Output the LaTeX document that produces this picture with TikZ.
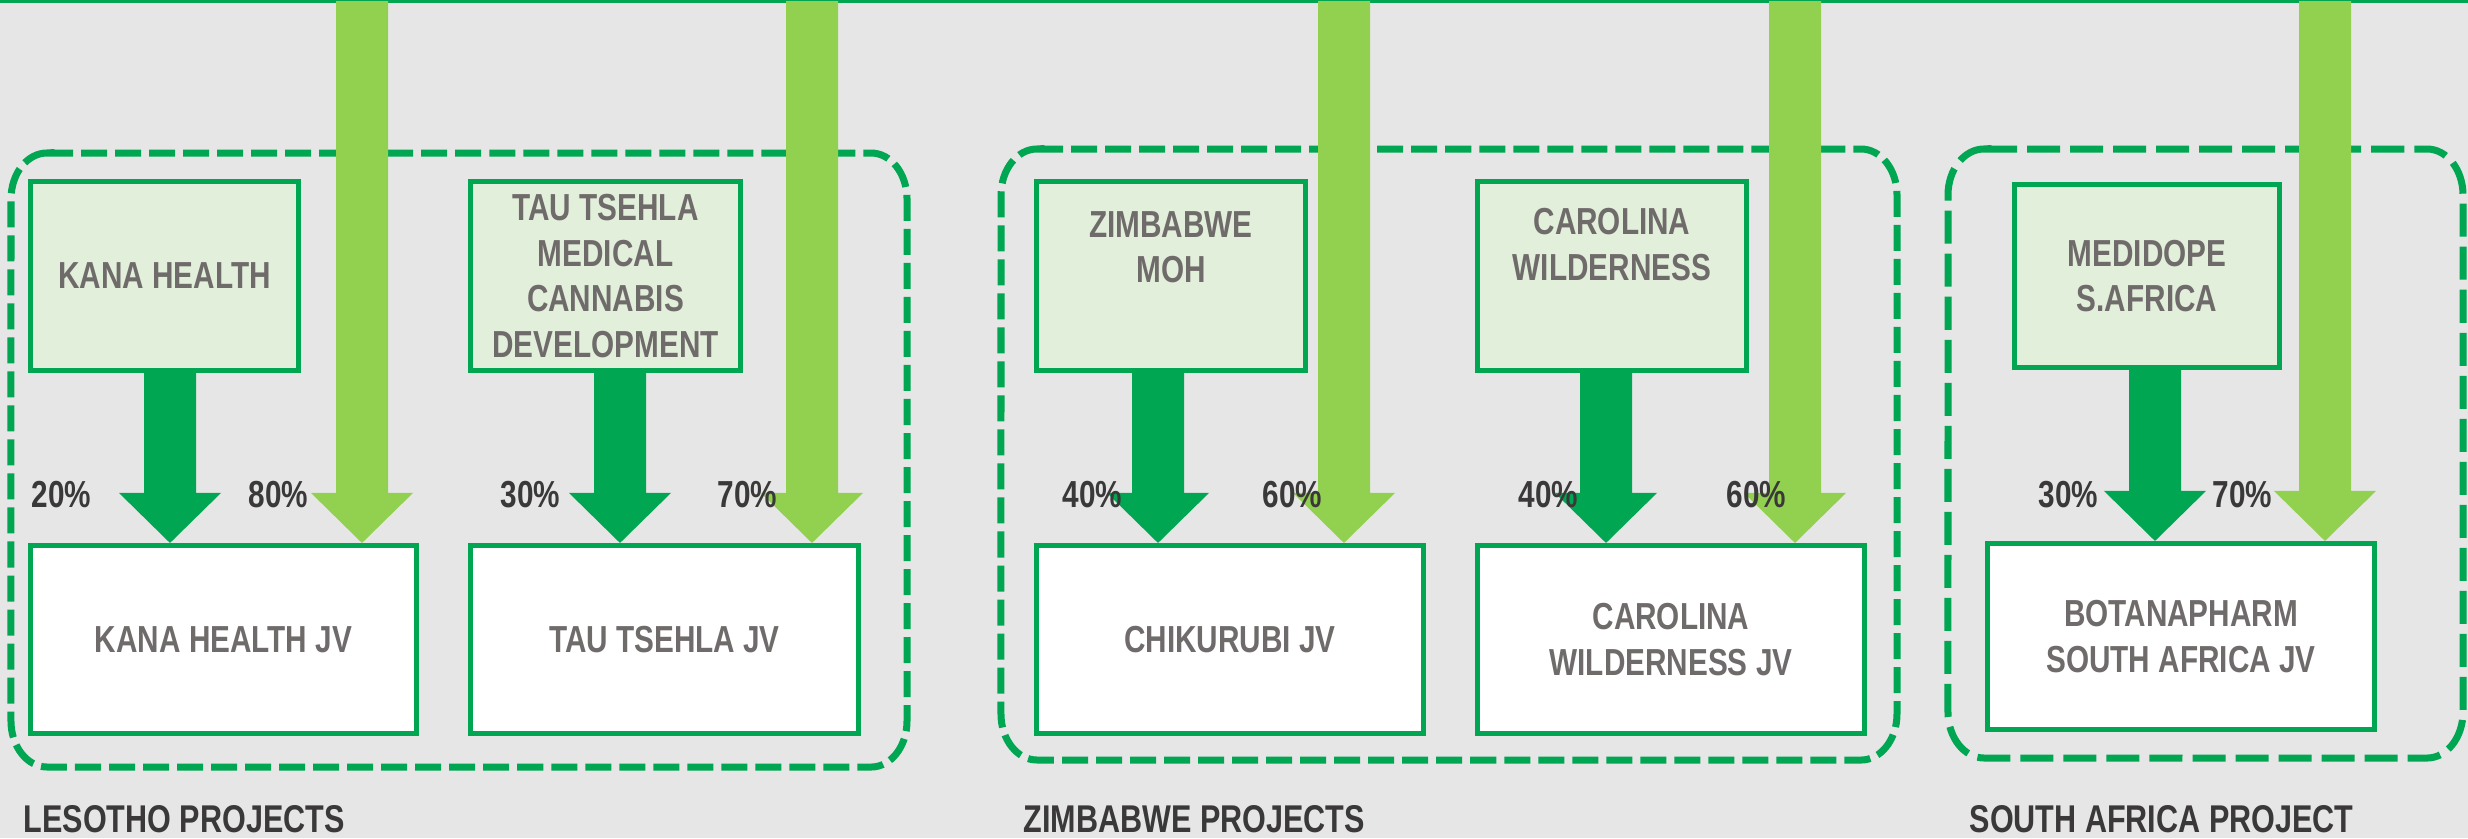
\documentclass[tikz,border=0pt]{standalone}
\usepackage{fontspec}
\newfontfamily\nfont{Liberation Sans}[FakeStretch=0.79]
\usetikzlibrary{calc}
\definecolor{dkg}{HTML}{00A651}
\definecolor{ltg}{HTML}{92D050}
\definecolor{pale}{HTML}{E2EFDA}
\definecolor{bgc}{HTML}{E6E6E6}
\definecolor{txg}{HTML}{6F6B6A}
\definecolor{txd}{HTML}{3A3838}
\newcommand\blockarr[3]{%
  \fill[#1] ($(#2)+(-26,0)$) -- ($(#2)+(26,0)$) -- ($(#3)+(26,-50)$) -- ($(#3)+(51,-50)$)
    -- (#3) -- ($(#3)+(-51,-50)$) -- ($(#3)+(-26,-50)$) -- cycle;}
\newcommand\grpbox[5][]{%
  \draw[grp,#1] (#2+36,#3) -- (#4-36,#3)
    arc[start angle=90,end angle=0,x radius=0.36cm,y radius=0.46cm] -- (#4,#5-46)
    arc[start angle=0,end angle=-90,x radius=0.36cm,y radius=0.46cm] -- (#2+36,#5)
    arc[start angle=-90,end angle=-180,x radius=0.36cm,y radius=0.46cm] -- (#2,#3+46)
    arc[start angle=180,end angle=90,x radius=0.36cm,y radius=0.46cm] -- cycle;}
\begin{document}
\begin{tikzpicture}[x=0.01cm,y=-0.01cm,
  txt/.style={font=\nfont\bfseries\fontsize{10.7}{12.9}\selectfont},
  srcbox/.style={txt, draw=dkg, fill=pale, line width=0.05cm, inner sep=0pt, align=center, text=txg, minimum height=1.89cm},
  jvbox/.style={srcbox, fill=white, minimum height=1.88cm},
  pct/.style={txt, anchor=west, inner sep=0pt, text=txd},
  grplabel/.style={pct, font=\nfont\bfseries\fontsize{11}{13}\selectfont},
  grp/.style={draw=dkg, line width=0.07cm, dash pattern=on 0.26cm off 0.08cm}]
\fill[bgc] (0,0) rectangle (2468,838);
\useasboundingbox (0,0) rectangle (2468,838);
\draw[dkg, line width=0.03cm] (0,1.5) -- (2468,1.5);
% group frames
\grpbox{11}{153}{907}{767}
\grpbox{1001}{149}{1897}{760}
\grpbox[dash pattern=on 0.33cm off 0.10cm]{1948}{149}{2463}{758}
% source boxes
\node[srcbox, minimum width=2.68cm] (kana) at (164.5,276) {KANA HEALTH};
\node[srcbox, minimum width=2.70cm] (tau) at (605.5,276) {TAU TSEHLA\\MEDICAL\\CANNABIS\\DEVELOPMENT};
\node[srcbox, minimum width=2.69cm] (zmoh) at (1171,276) {ZIMBABWE\\MOH\\[0.12cm]};
\node[srcbox, minimum width=2.69cm] (carol) at (1612,276) {CAROLINA\\WILDERNESS\\[0.18cm]};
\node[srcbox, minimum width=2.65cm, minimum height=1.83cm] (medi) at (2147,276) {MEDIDOPE\\S.AFRICA};
% JV boxes
\node[jvbox, minimum width=3.86cm] (kanajv) at (223.5,639.5) {KANA HEALTH JV};
\node[jvbox, minimum width=3.88cm] (taujv) at (664.5,639.5) {TAU TSEHLA JV};
\node[jvbox, minimum width=3.87cm] (chikjv) at (1230,639.5) {CHIKURUBI JV};
\node[jvbox, minimum width=3.87cm] (caroljv) at (1671,639.5) {CAROLINA\\WILDERNESS JV};
\node[jvbox, minimum width=3.87cm, minimum height=1.86cm] (botjv) at (2181,636.5) {BOTANAPHARM\\SOUTH AFRICA JV};
% arrow anchors
\coordinate (d1) at (170,0);
\coordinate (d2) at (620,0);
\coordinate (d3) at (1158,0);
\coordinate (d4) at (1606,0);
\coordinate (d5) at (2155,0);
\coordinate (l1) at (362,1);
\coordinate (l2) at (812,1);
\coordinate (l3) at (1344,1);
\coordinate (l4) at (1795,1);
\coordinate (l5) at (2325,1);
% dark arrows
\blockarr{dkg}{kana.south -| d1}{kanajv.north -| d1}
\blockarr{dkg}{tau.south -| d2}{taujv.north -| d2}
\blockarr{dkg}{zmoh.south -| d3}{chikjv.north -| d3}
\blockarr{dkg}{carol.south -| d4}{caroljv.north -| d4}
\blockarr{dkg}{medi.south -| d5}{botjv.north -| d5}
% light arrows
\blockarr{ltg}{l1}{kanajv.north -| l1}
\blockarr{ltg}{l2}{taujv.north -| l2}
\blockarr{ltg}{l3}{chikjv.north -| l3}
\blockarr{ltg}{l4}{caroljv.north -| l4}
\blockarr{ltg}{l5}{botjv.north -| l5}
% percentages
\node[pct] (p1) at (31,495) {20\%};
\node[pct] (p2) at (248,495) {80\%};
\node[pct] (p3) at (500,495) {30\%};
\node[pct] (p4) at (717,495) {70\%};
\node[pct] (p5) at (1062,495) {40\%};
\node[pct] (p6) at (1262,495) {60\%};
\node[pct] (p7) at (1518,495) {40\%};
\node[pct] (p8) at (1726,495) {60\%};
\node[pct] (p9) at (2038,495) {30\%};
\node[pct] (p10) at (2212,495) {70\%};
% group labels
\node[grplabel] (g1) at (23,819) {LESOTHO PROJECTS};
\node[grplabel] (g2) at (1023,819) {ZIMBABWE PROJECTS};
\node[grplabel] (g3) at (1969,819) {SOUTH AFRICA PROJECT};
\end{tikzpicture}
\end{document}
